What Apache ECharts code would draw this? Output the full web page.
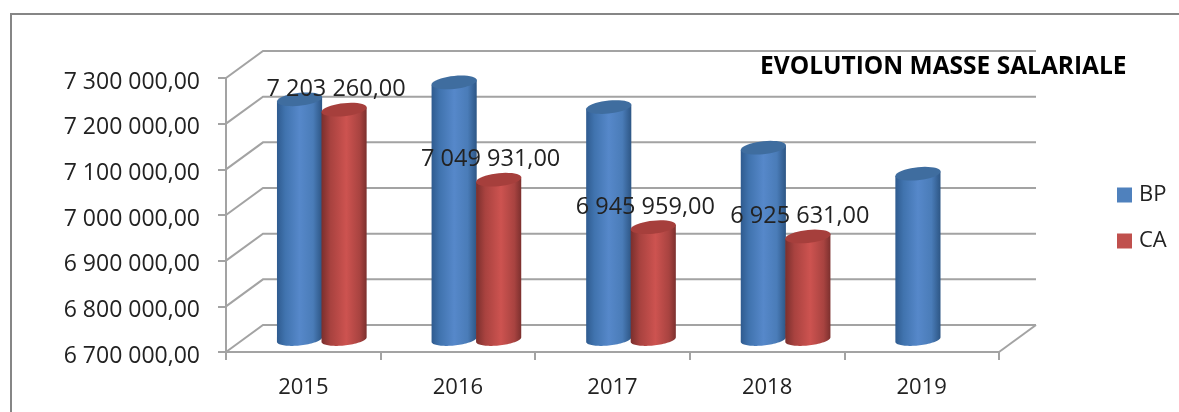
<!DOCTYPE html>
<html>
<head>
<meta charset="utf-8">
<style>
  html, body { margin: 0; padding: 0; background: #fff; }
  #chart { width: 1179px; height: 412px; }
</style>
<script src="https://cdn.jsdelivr.net/npm/echarts@6/dist/echarts.min.js"></script>
</head>
<body>
<div id="chart"></div>
<script>
var years = ['2015', '2016', '2017', '2018', '2019'];
var bpValues = [7226000, 7263000, 7209000, 7120000, 7063000];
var caValues = [7203260, 7049931, 6945959, 6925631, null];
var yTicks = [6700000, 6800000, 6900000, 7000000, 7100000, 7200000, 7300000];

var FONT = '"Open Sans", sans-serif';
var GREY = '#a3a3a3';
// depth of the fake 3D box, and of the plane the cylinders stand on
var WALL_DX = 37, WALL_DY = 27;
var CYL_DX = 18.5, CYL_DY = 12.5;

function money(v) {
  return String(v).replace(/\B(?=(\d{3})+$)/g, ' ') + ',00';
}

function ringPoints(cx, cy, rx, ry, from, to) {
  var pts = [];
  for (var i = 0; i <= 40; i++) {
    var t = from + (to - from) * i / 40;
    // ellipse is a bit tilted, right side higher
    pts.push([cx + rx * Math.cos(t), cy + ry * Math.sin(t) - 0.1 * rx * Math.cos(t)]);
  }
  return pts;
}

function cylinder(shift, body, topColor, showLabel) {
  return function (params, api) {
    var value = api.value(1);
    if (isNaN(value)) return;
    var band = api.size([1, 0])[0];
    var top = api.coord([api.value(0), value]);
    var base = api.coord([api.value(0), yTicks[0]]);
    var rx = band * 0.146;
    var ry = 6.5;
    var cx = top[0] + CYL_DX + shift * band;
    var topY = top[1] - CYL_DY;
    var baseY = base[1] - CYL_DY;
    var side = [ringPoints(cx, topY, rx, 0, Math.PI, Math.PI)[0]]
      .concat(ringPoints(cx, baseY, rx, 6, Math.PI, 0))
      .concat([ringPoints(cx, topY, rx, 0, 0, 0)[0]]);
    var children = [{
      type: 'polygon',
      shape: { points: side },
      style: {
        fill: new echarts.graphic.LinearGradient(0, 0, 1, 0, body)
      }
    }, {
      type: 'polygon',
      shape: { points: ringPoints(cx, topY, rx, ry, 0, Math.PI * 2) },
      style: { fill: topColor }
    }];
    if (showLabel) {
      children.push({
        type: 'text',
        z2: 50,
        style: {
          text: money(value),
          x: cx - 8,
          y: topY - 20,
          align: 'center',
          verticalAlign: 'middle',
          fill: '#222',
          font: '23.5px ' + FONT
        }
      });
    }
    return { type: 'group', children: children };
  };
}

var blueBody = [
  { offset: 0, color: '#2f5b8f' },
  { offset: 0.18, color: '#4073ae' },
  { offset: 0.5, color: '#5688ca' },
  { offset: 0.8, color: '#4a7cb8' },
  { offset: 1, color: '#2d5685' }
];
var redBody = [
  { offset: 0, color: '#7a2f2d' },
  { offset: 0.2, color: '#a8423f' },
  { offset: 0.55, color: '#cd5350' },
  { offset: 0.85, color: '#a84340' },
  { offset: 1, color: '#7c302e' }
];

function rows(values) {
  return values.map(function (v, i) { return [i, v]; });
}

var myChart = echarts.init(document.getElementById('chart'));
var option = {
  animation: false,
  backgroundColor: '#fff',
  title: {
    text: 'EVOLUTION MASSE SALARIALE',
    left: 755,
    top: 50,
    textStyle: { fontFamily: FONT, fontSize: 24.5, fontWeight: 'bold', color: '#000' }
  },
  legend: {
    orient: 'vertical',
    left: 1112,
    top: 179,
    itemWidth: 15,
    itemHeight: 15,
    itemGap: 24,
    icon: 'rect',
    selectedMode: false,
    data: ['BP', 'CA'],
    textStyle: { fontFamily: FONT, fontSize: 22, color: '#222', padding: [0, 0, 0, 2] }
  },
  grid: { left: 226, right: 180, top: 78, bottom: 60 },
  xAxis: {
    type: 'category',
    data: years,
    axisLine: { lineStyle: { color: GREY, width: 2 } },
    axisTick: { show: true, length: 8, lineStyle: { color: GREY, width: 2 } },
    axisLabel: { margin: 25, fontFamily: FONT, fontSize: 22, color: '#222' }
  },
  yAxis: {
    type: 'value',
    min: yTicks[0],
    max: yTicks[yTicks.length - 1],
    interval: 100000,
    axisLine: { show: true, lineStyle: { color: GREY, width: 2 } },
    axisTick: { show: true, length: 8, lineStyle: { color: GREY, width: 2 } },
    splitLine: { show: false },
    axisLabel: { margin: 26, fontFamily: FONT, fontSize: 23, color: '#222', verticalAlign: 'top', lineHeight: 8, formatter: money }
  },
  graphic: [{
    type: 'polyline',
    shape: { points: [[11, 412], [11, 14], [1179, 14]] },
    style: { stroke: '#868686', lineWidth: 2, fill: 'none' }
  }],
  series: [{
    // back wall + side wall lines
    type: 'custom',
    silent: true,
    legendHoverLink: false,
    z: 1,
    data: yTicks.map(function (v) { return [0, v]; }),
    encode: { x: 0, y: 1 },
    renderItem: function (params, api) {
      var y = api.coord([0, api.value(1)])[1];
      var x0 = params.coordSys.x;
      var x1 = x0 + params.coordSys.width;
      var lines = [{
        type: 'polyline',
        shape: { points: [[x0, y], [x0 + WALL_DX, y - WALL_DY], [x1 + WALL_DX, y - WALL_DY]] },
        style: { stroke: GREY, lineWidth: 2, fill: 'none' }
      }];
      if (api.value(1) === yTicks[0]) {
        lines.push({
          type: 'line',
          shape: { x1: x1, y1: y, x2: x1 + WALL_DX, y2: y - WALL_DY },
          style: { stroke: GREY, lineWidth: 2 }
        });
      }
      return { type: 'group', children: lines };
    }
  }, {
    name: 'BP',
    type: 'custom',
    z: 3,
    itemStyle: { color: '#4f81bd' },
    data: rows(bpValues),
    encode: { x: 0, y: 1 },
    renderItem: cylinder(-0.144, blueBody, '#3f6d9f', false)
  }, {
    name: 'CA',
    type: 'custom',
    z: 4,
    itemStyle: { color: '#c0504d' },
    data: rows(caValues),
    encode: { x: 0, y: 1 },
    renderItem: cylinder(0.144, redBody, '#a63f3c', true)
  }]
};
myChart.setOption(option);
</script>
</body>
</html>
